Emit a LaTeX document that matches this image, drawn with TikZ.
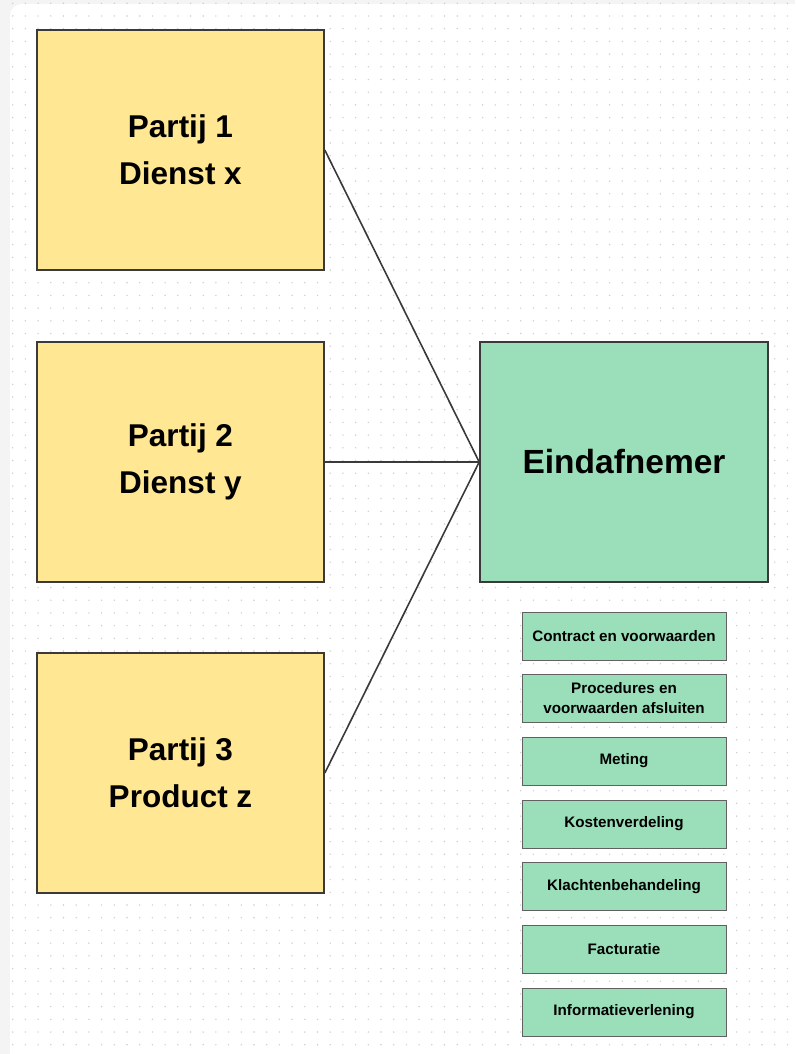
\documentclass[tikz,border=0pt]{standalone}
\usepackage{fontspec}
\setmainfont{Liberation Sans}
\definecolor{ylw}{HTML}{FFE794}
\definecolor{grn}{HTML}{9ADFB9}
\definecolor{edge}{HTML}{3A3A3A}
\definecolor{dotc}{HTML}{CFCFCF}
\definecolor{frame}{HTML}{F4F4F4}
\begin{document}
\begin{tikzpicture}[x=1pt,y=-1pt,
  party/.style={draw=edge,line width=1.6pt,fill=ylw,minimum width=287pt,minimum height=240pt,inner sep=0pt,align=center,font=\fontsize{31.5}{47}\selectfont\bfseries},
  cust/.style={draw=edge,line width=1.6pt,fill=grn,minimum width=288pt,minimum height=240pt,inner sep=0pt,align=center,font=\fontsize{33.5}{40}\selectfont\bfseries},
  task/.style={draw=edge!80,line width=1pt,fill=grn,minimum width=204pt,minimum height=48pt,inner sep=0pt,align=center,font=\fontsize{15.2}{20}\selectfont\bfseries},
  conn/.style={draw=edge,line width=1.6pt}]
\useasboundingbox (0,0) rectangle (795,1054);
\fill[frame] (0,0) rectangle (795,1054);
\fill[white,rounded corners=12pt] (10,4) rectangle (815,1074);
\foreach \i in {1,...,62}{
  \foreach \j in {0,...,82}{
    \fill[dotc] ({12.7*\i},{3.3+12.7*\j}) circle (0.8pt);
  }
}
\node[party] (p1) at (180.5,150) {Partij 1\\Dienst x};
\node[party] (p2) at (180.5,462) {Partij 2\\Dienst y};
\node[party] (p3) at (180.5,773) {Partij 3\\Product z};
\node[cust] (e) at (624,462) {Eindafnemer};
\draw[conn] (p1.east) -- (e.west);
\draw[conn] (p2.east) -- (e.west);
\draw[conn] (p3.east) -- (e.west);
\node[task] (t1) at (624,636.5) {Contract en voorwaarden};
\node[task] (t2) at (624,698.5) {Procedures en\\voorwaarden afsluiten};
\node[task] (t3) at (624,761) {Meting};
\node[task] (t4) at (624,824) {Kostenverdeling};
\node[task] (t5) at (624,886.5) {Klachtenbehandeling};
\node[task] (t6) at (624,949.5) {Facturatie};
\node[task] (t7) at (624,1012) {Informatieverlening};
\end{tikzpicture}
\end{document}
